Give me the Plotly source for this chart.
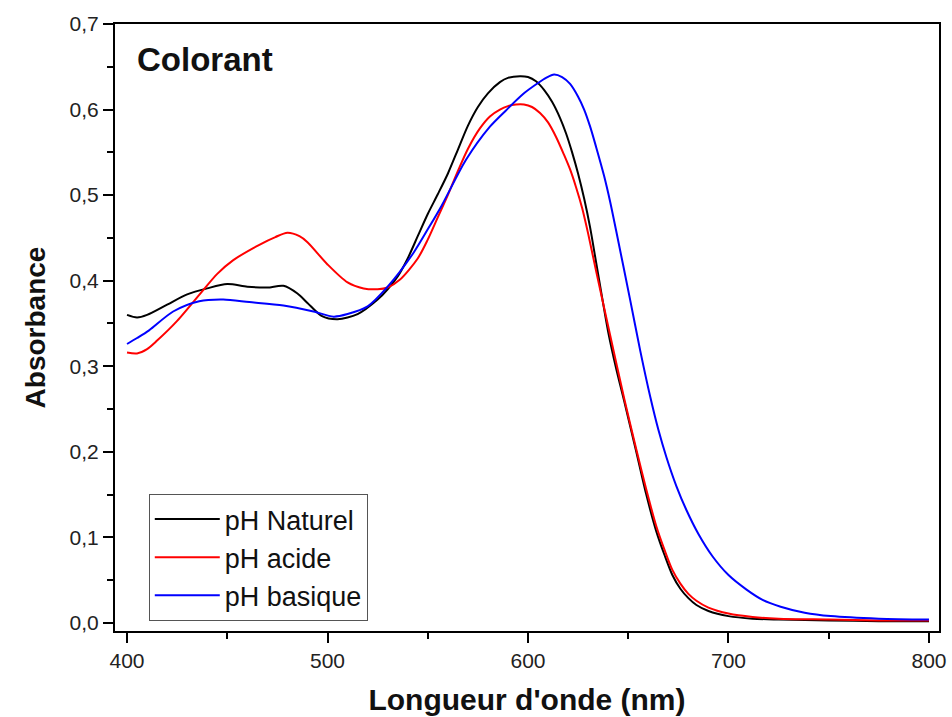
import plotly.graph_objects as go

# --- data ---
wl_naturel = [400, 405, 410, 420, 430, 440, 450, 460, 470, 478, 485, 490, 497, 505, 515, 525, 530,
              535, 540, 545, 550, 555, 560, 565, 570, 575, 580, 586, 590, 596, 600, 604, 608, 612,
              616, 619, 622, 625, 628, 631, 634, 637, 640, 644, 648, 654, 659, 664, 668, 672, 676,
              680, 684, 690, 700, 712, 725, 750, 775, 800]
abs_naturel = [0.360, 0.357, 0.360, 0.372, 0.384, 0.391, 0.396, 0.393, 0.392, 0.394, 0.385, 0.374,
               0.359, 0.355, 0.361, 0.378, 0.390, 0.405, 0.426, 0.452, 0.478, 0.501, 0.525, 0.553,
               0.581, 0.603, 0.619, 0.632, 0.637, 0.639, 0.638, 0.633, 0.623, 0.609, 0.590, 0.572,
               0.550, 0.525, 0.496, 0.462, 0.421, 0.380, 0.340, 0.297, 0.259, 0.200, 0.150, 0.107,
               0.080, 0.056, 0.040, 0.029, 0.021, 0.014, 0.008, 0.005, 0.004, 0.003, 0.002, 0.002]

wl_acide = [400, 405, 410, 415, 425, 438, 445, 453, 466, 474, 480, 486, 490, 500, 510, 518, 525,
            530, 536, 545, 550, 555, 560, 565, 570, 576, 581, 586, 590, 594, 598, 602, 606, 610,
            614, 618, 621, 624, 627, 630, 634, 641, 648, 654, 659, 664, 668, 672, 676, 680, 684,
            690, 700, 712, 725, 750, 775, 800]
abs_acide = [0.316, 0.315, 0.320, 0.330, 0.353, 0.389, 0.408, 0.424, 0.442, 0.451, 0.456, 0.452,
             0.445, 0.419, 0.398, 0.391, 0.390, 0.392, 0.401, 0.426, 0.448, 0.474, 0.500, 0.528,
             0.554, 0.578, 0.592, 0.600, 0.604, 0.606, 0.606, 0.603, 0.596, 0.585, 0.568, 0.547,
             0.530, 0.509, 0.485, 0.455, 0.411, 0.336, 0.262, 0.203, 0.156, 0.113, 0.086, 0.062,
             0.046, 0.034, 0.026, 0.018, 0.011, 0.007, 0.005, 0.004, 0.003, 0.003]

wl_basique = [400, 405, 411, 423, 436, 448, 461, 478, 493, 503, 510, 520, 530, 543, 550, 557, 569,
              581, 589, 598, 605, 609, 613, 617, 621, 625, 628, 631, 634, 638, 641, 644, 651, 656,
              661, 665, 669, 674, 679, 685, 692, 700, 709, 717, 726, 738, 751, 775, 800]
abs_basique = [0.326, 0.333, 0.342, 0.364, 0.376, 0.378, 0.375, 0.371, 0.364, 0.358, 0.361, 0.370,
               0.393, 0.433, 0.460, 0.488, 0.541, 0.580, 0.599, 0.619, 0.631, 0.637, 0.641, 0.638,
               0.630, 0.615, 0.600, 0.580, 0.556, 0.522, 0.492, 0.458, 0.377, 0.318, 0.264, 0.226,
               0.194, 0.160, 0.132, 0.104, 0.078, 0.056, 0.039, 0.027, 0.019, 0.012, 0.008, 0.005,
               0.004]

series_names = ["pH Naturel", "pH acide", "pH basique"]
x_ticks = [400, 500, 600, 700, 800]
y_ticks = [0.0, 0.1, 0.2, 0.3, 0.4, 0.5, 0.6, 0.7]
y_ticklabels = ["0,0", "0,1", "0,2", "0,3", "0,4", "0,5", "0,6", "0,7"]

FONT = "Liberation Sans, Arial, sans-serif"

fig = go.Figure()
for wl, ab, name, col in [(wl_naturel, abs_naturel, series_names[0], "#000000"),
                          (wl_acide, abs_acide, series_names[1], "#ff0000"),
                          (wl_basique, abs_basique, series_names[2], "#0000ff")]:
    fig.add_trace(go.Scatter(x=wl, y=ab, mode="lines", name=name,
                             line=dict(color=col, width=2, shape="spline", smoothing=0.8)))

axis_common = dict(showline=True, linecolor="black", linewidth=2, mirror=True,
                   ticks="outside", ticklen=10, tickwidth=2, tickcolor="black",
                   showgrid=False, zeroline=False, automargin=False,
                   tickfont=dict(family=FONT, size=21, color="#222"))

fig.update_layout(
    width=952, height=717,
    margin=dict(l=115, r=13, t=24, b=86),
    paper_bgcolor="white", plot_bgcolor="white",
    xaxis=dict(range=[394, 805], tickvals=x_ticks,
               minor=dict(ticks="outside", ticklen=6, tickwidth=2, tickcolor="black", dtick=50, tick0=400),
               title=dict(text="<b>Longueur d'onde (nm)</b>", standoff=18,
                          font=dict(family=FONT, size=30, color="#111")),
               **axis_common),
    yaxis=dict(range=[-0.0094, 0.7], tickvals=y_ticks, ticktext=y_ticklabels,
               minor=dict(ticks="outside", ticklen=6, tickwidth=2, tickcolor="black", dtick=0.05, tick0=0),
               title=dict(text="<b>Absorbance</b>", standoff=16,
                          font=dict(family=FONT, size=28, color="#111")),
               **axis_common),
    legend=dict(x=0.041, y=0.2257, xanchor="left", yanchor="top",
                bordercolor="#555", borderwidth=1, bgcolor="white",
                font=dict(family=FONT, size=27, color="#111"),
                itemwidth=65, tracegroupgap=0),
    showlegend=True,
    annotations=[dict(text="<b>Colorant</b>", xref="paper", yref="paper",
                      x=0.024, y=0.941, xanchor="left", yanchor="middle", showarrow=False,
                      font=dict(family=FONT, size=33, color="#111"))],
)

fig.write_html("out.html")
